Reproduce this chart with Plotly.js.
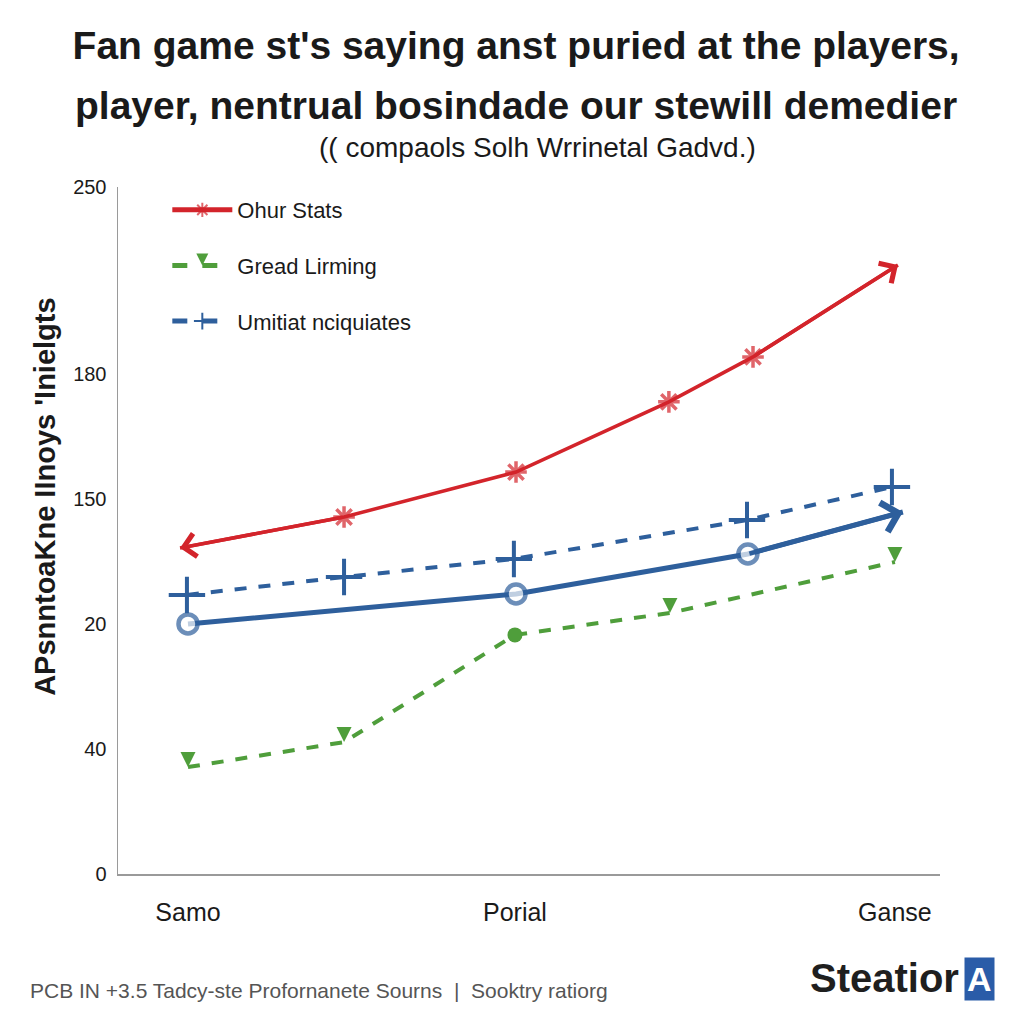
<!DOCTYPE html>
<html>
<head>
<meta charset="utf-8">
<script src="https://cdn.plot.ly/plotly-3.0.1.min.js"></script>
<style>html,body{margin:0;padding:0;background:#fff;}#chart{width:1024px;height:1024px;}</style>
</head>
<body>
<div id="chart"></div>
<script>
// ---- data (y in the chart's own plotted units) ----
const xTickVals = [1, 2.85, 5];
const xTickText = ['Samo', 'Porial', 'Ganse'];
const yTickVals = [0, 50, 100, 150, 200, 275];
const yTickText = ['0', '40', '20', '150', '180', '250'];

const seriesNames = ['Ohur Stats', 'Gread Lirming', 'Umitiat nciquiates'];

const redX = [0.955, 1.883, 2.856, 3.721, 4.197, 5.017];
const redY = [130.5, 142.9, 160.9, 189.0, 207.0, 243.8];

const greenX = [1.0, 1.883, 2.85, 3.727, 5.0];
const greenY = [42.8, 52.8, 95.7, 104.5, 124.9];

const blueDotX = [0.994, 1.883, 2.844, 4.163, 4.983];
const blueDotY = [111.7, 118.9, 126.1, 141.7, 154.9];

const blueX = [1.0, 2.856, 4.168, 5.045];
const blueY = [100.1, 112.1, 128.1, 144.9];

// ---- styles ----
const RED = '#d3242b', GREEN = '#4f9e3b', BLUE = '#2e5f9c';

const traces = [
  {
    x: redX, y: redY, name: seriesNames[0], mode: 'lines+markers', legendgroup: 'a',
    line: {color: RED, width: 3.5},
    marker: {symbol: 'asterisk-open', size: redX.map((v, i) => (i === 0 || i === redX.length - 1) ? 0 : 18),
             line: {color: RED, width: 3.5}, color: RED}
  },
  {
    x: greenX, y: greenY, name: seriesNames[1], mode: 'lines+markers', legendgroup: 'b',
    line: {color: GREEN, width: 4, dash: 'dash'},
    marker: {symbol: greenX.map((v, i) => i === 2 ? 'circle' : 'arrow-down'), size: 15, color: GREEN}
  },
  {
    x: blueDotX, y: blueDotY, name: seriesNames[2], mode: 'lines+markers', legendgroup: 'c',
    line: {color: BLUE, width: 4, dash: 'dash'},
    marker: {symbol: 'cross-thin-open', size: 26, line: {color: BLUE, width: 4}, color: BLUE}
  },
  {
    x: blueX, y: blueY, name: seriesNames[2], mode: 'lines+markers', showlegend: false,
    line: {color: BLUE, width: 5},
    marker: {symbol: 'circle', size: blueX.map((v, i) => i === blueX.length - 1 ? 0 : 19),
             color: '#ffffff', line: {color: BLUE, width: 4.5}}
  }
];

function arrowAnn(xs, ys, tipIdx, tailIdx, color, width) {
  return {x: xs[tipIdx], y: ys[tipIdx], ax: xs[tailIdx], ay: ys[tailIdx],
          xref: 'x', yref: 'y', axref: 'x', ayref: 'y', text: '', showarrow: true,
          arrowhead: 4, arrowsize: 1.3, arrowwidth: width, arrowcolor: color};
}

const layout = {
  width: 1024, height: 1024,
  paper_bgcolor: '#ffffff', plot_bgcolor: '#ffffff',
  margin: {l: 118, r: 84, t: 187, b: 150},
  font: {family: 'Liberation Sans, Arial, sans-serif', color: '#1a1a1a'},
  title: {
    text: 'Fan game st\'s saying anst puried at the players,',
    font: {size: 39, family: 'Liberation Sans, Arial, sans-serif', weight: 'bold', color: '#1a1a1a'},
    x: 0.504, xanchor: 'center', y: 0.956, yref: 'container', yanchor: 'middle'
  },
  showlegend: true,
  legend: {
    x: 0.06, y: 0.997, xanchor: 'left', yanchor: 'top',
    bgcolor: 'rgba(0,0,0,0)', font: {size: 22, color: '#1a1a1a'},
    traceorder: 'grouped', tracegroupgap: 24, itemsizing: 'constant', itemwidth: 60
  },
  xaxis: {
    range: [0.604, 5.255], tickmode: 'array', tickvals: xTickVals, ticktext: xTickText,
    showgrid: false, zeroline: false, showline: true, linecolor: '#9a9a9a', linewidth: 1.5,
    ticks: 'outside', ticklen: 15, tickcolor: 'rgba(0,0,0,0)',
    tickfont: {size: 25, color: '#1a1a1a'}
  },
  yaxis: {
    range: [0, 275], tickmode: 'array', tickvals: yTickVals, ticktext: yTickText,
    showgrid: false, zeroline: false, showline: true, linecolor: '#9a9a9a', linewidth: 1.5,
    ticks: 'outside', ticklen: 6, tickcolor: 'rgba(0,0,0,0)',
    tickfont: {size: 20, color: '#1a1a1a'}
  },
  annotations: [
    {text: 'player, nentrual bosindade our stewill demedier', xref: 'paper', yref: 'paper',
     x: 0.484, y: 1.119, xanchor: 'center', yanchor: 'middle', showarrow: false,
     font: {size: 39, weight: 'bold', color: '#1a1a1a'}},
    {text: '(( compaols Solh Wrrinetal Gadvd.)', xref: 'paper', yref: 'paper',
     x: 0.51, y: 1.057, xanchor: 'center', yanchor: 'middle', showarrow: false,
     font: {size: 28, color: '#1a1a1a'}},
    {text: 'APsnntoaKne IInoys \'Inielgts', xref: 'paper', yref: 'paper', textangle: -90,
     x: -0.0888, y: 0.549, xanchor: 'center', yanchor: 'middle', showarrow: false,
     font: {size: 29, weight: 'bold', color: '#1a1a1a'}},
    {text: 'PCB IN +3.5 Tadcy-ste Profornanete Sourns  |  Sooktry ratiorg', xref: 'paper', yref: 'paper',
     x: -0.1095, y: -0.169, xanchor: 'left', yanchor: 'middle', showarrow: false,
     font: {size: 21, color: '#555555'}},
    {text: 'Steatior', xref: 'paper', yref: 'paper',
     x: 1.026, y: -0.151, xanchor: 'right', yanchor: 'middle', showarrow: false,
     font: {size: 40, weight: 'bold', color: '#1f1f1f'}},
    {text: 'A', xref: 'paper', yref: 'paper', bgcolor: '#2a5ca8', borderpad: 2,
     x: 1.029, y: -0.153, xanchor: 'left', yanchor: 'middle', showarrow: false,
     font: {size: 34, weight: 'bold', color: '#ffffff'}},
    arrowAnn(redX, redY, 0, 1, RED, 3.5),
    arrowAnn(redX, redY, redX.length - 1, redX.length - 2, RED, 3.5),
    arrowAnn(blueX, blueY, blueX.length - 1, blueX.length - 2, BLUE, 4.5)
  ]
};

Plotly.newPlot('chart', traces, layout, {displayModeBar: false, staticPlot: true});
</script>
</body>
</html>
